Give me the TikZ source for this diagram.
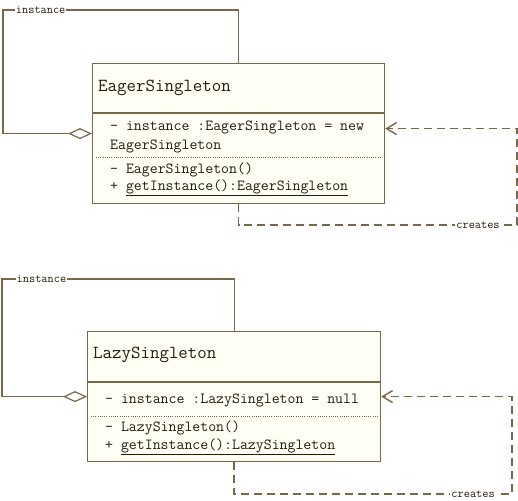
\documentclass[tikz,border=0pt]{standalone}
\usetikzlibrary{arrows.meta, calc, positioning}
\definecolor{umlline}{RGB}{120,104,72}
\definecolor{umltext}{RGB}{36,28,12}
\definecolor{umlfill}{RGB}{255,255,246}
\tikzset{
  classbox/.style={
    rectangle, draw=umlline, fill=umlfill,
    line width=1.2pt, anchor=north west, inner sep=0pt
  },
  classtitle/.style={
    anchor=west, inner sep=0pt, text=umltext,
    font=\fontsize{18.4}{20}\selectfont\ttfamily
  },
  member/.style={
    anchor=west, inner sep=0pt, text=umltext,
    font=\fontsize{15.4}{17}\selectfont\ttfamily
  },
  divider/.style={draw=umlline, line width=1.2pt},
  dotdivider/.style={draw=umlline, line width=1pt, dash pattern=on 1pt off 1.2pt},
  assoc/.style={
    draw=umlline, line width=1.2pt,
    -{Diamond[open, length=24pt, width=11pt]}
  },
  depend/.style={
    draw=umlline, line width=1.4pt, dash pattern=on 8pt off 5pt,
    -{Straight Barb[length=10pt, width=12pt]}
  },
  edgelabel/.style={
    fill=white, inner sep=1pt, text=umltext,
    font=\fontsize{12}{13}\selectfont\ttfamily
  }
}

\begin{document}
\begin{tikzpicture}[x=1pt, y=-1pt]
\useasboundingbox (0,0) rectangle (518,500);

%------------------------------------------------------
% EAGER SINGLETON
%------------------------------------------------------

\node[classbox, minimum width=292pt, minimum height=140pt] (eager) at (92,63) {};
\node[classtitle] (eagername) at ($(eager.north west)+(6,25)$) {EagerSingleton};
\draw[divider] ($(eager.north west)+(0,50)$) -- ($(eager.north east)+(0,50)$);
\node[member] (eagerattr) at ($(eager.north west)+(18,64)$) {- instance :EagerSingleton = new};
\node[member] (eagerattrb) at ($(eager.north west)+(18,83)$) {EagerSingleton};
\draw[dotdivider] ($(eager.north west)+(4,94)$) -- ($(eager.north east)+(-4,94)$);
\node[member] (eagerctor) at ($(eager.north west)+(18,107)$) {- EagerSingleton()};
\node[member] (eagerget) at ($(eager.north west)+(18,125)$) {+ \underline{getInstance():EagerSingleton}};

%------------------------------------------------------
% LAZY SINGLETON
%------------------------------------------------------

\node[classbox, minimum width=293pt, minimum height=130pt] (lazy) at (87,331) {};
\node[classtitle] (lazyname) at ($(lazy.north west)+(6,24)$) {LazySingleton};
\draw[divider] ($(lazy.north west)+(0,51)$) -- ($(lazy.north east)+(0,51)$);
\node[member] (lazyattr) at ($(lazy.north west)+(18,69)$) {- instance :LazySingleton = null};
\draw[dotdivider] ($(lazy.north west)+(4,85)$) -- ($(lazy.north east)+(-4,85)$);
\node[member] (lazyctor) at ($(lazy.north west)+(18,97)$) {- LazySingleton()};
\node[member] (lazyget) at ($(lazy.north west)+(18,116)$) {+ \underline{getInstance():LazySingleton}};

%------------------------------------------------------
% EDGES
%------------------------------------------------------

\coordinate (eagerloop) at (3,10);
\coordinate (eagerturn) at (517,225);
\coordinate (lazyloop) at (2,279);
\coordinate (lazyturn) at (512,494);

\draw[assoc] (eager.north) |- node[edgelabel, pos=0.92] {instance} (eagerloop) |- (eager.west);
\draw[depend] (eager.south) |- node[edgelabel, pos=0.93] {creates} (eagerturn) |- ($(eager.east)+(0,-5)$);
\draw[assoc] (lazy.north) |- node[edgelabel, pos=0.915] {instance} (lazyloop) |- (lazy.west);
\draw[depend] (lazy.south) |- node[edgelabel, pos=0.93] {creates} (lazyturn) |- (lazy.east);

\end{tikzpicture}
\end{document}
